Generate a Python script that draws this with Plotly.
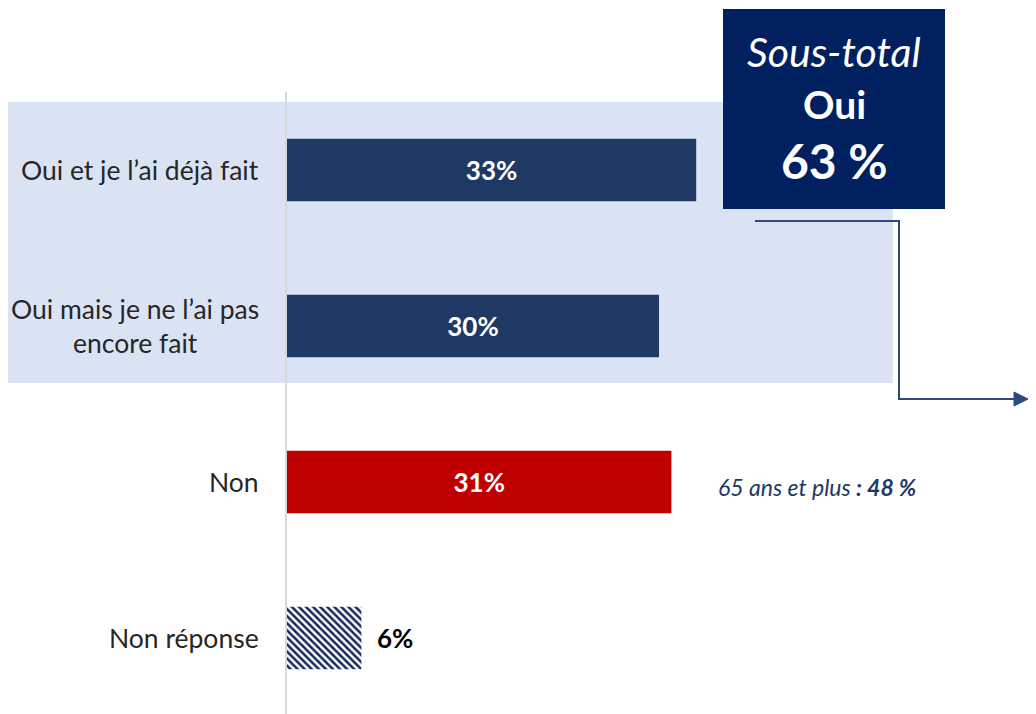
import plotly.graph_objects as go

categories = ["Oui et je l’ai déjà fait", "Oui mais je ne l’ai pas<br>encore fait", "Non", "Non réponse"]
values = [33, 30, 31, 6]
value_labels = ["33%", "30%", "31%", "6%"]
bar_colors = ["#203864", "#203864", "#C00000", "#FFFFFF"]
subtotal_lines = ["<i>Sous-total</i>", "<b>Oui</b>", "<b>63 %</b>"]
note_text = "<i>65 ans et plus <b>: 48 %</b></i>"

OFF = 8  # page body margin
W, H = 1036 - OFF, 714 - OFF
L = 287 - OFF
PW = W - L
PX_PER_PCT = 12.4


def px(x):
    # reference page pixel -> paper coordinate
    return (x - OFF - L) / PW


def py(y):
    return 1 - (y - OFF) / H


FONT = "Lato, 'Open Sans', sans-serif"
ypos = list(range(len(categories)))

fig = go.Figure()

fig.add_trace(go.Bar(
    x=values[:3], y=ypos[:3], orientation="h", width=0.4,
    marker=dict(color=bar_colors[:3], line=dict(width=0)),
    text=value_labels[:3], textposition="inside", insidetextanchor="middle",
    textfont=dict(family=FONT, size=26, color="white", weight="bold"),
    hoverinfo="skip",
))
fig.add_trace(go.Bar(
    x=values[3:], y=ypos[3:], orientation="h", width=0.4,
    marker=dict(color="white", line=dict(width=0),
                pattern=dict(shape="\\", fgcolor="#14285A", bgcolor="white",
                             size=5, solidity=0.5, fgopacity=1)),
    hoverinfo="skip",
))

annotations = []
for i, c in enumerate(categories):
    annotations.append(dict(
        x=0, y=i, xref="x", yref="y", text=c, showarrow=False,
        xanchor="right", yanchor="middle", align="center", xshift=-26,
        font=dict(family=FONT, size=26.5, color="#262626"),
    ))
annotations.append(dict(
    x=values[3], y=3, xref="x", yref="y", text="<b>" + value_labels[3] + "</b>",
    showarrow=False, xanchor="left", yanchor="middle", xshift=14,
    font=dict(family=FONT, size=26, color="black"),
))
annotations.append(dict(
    x=px(716), y=2, xref="paper", yref="y", text=note_text, showarrow=False,
    xanchor="left", yanchor="middle", yshift=-5,
    font=dict(family=FONT, size=23, color="#203864"),
))
box_cx = px(834)
annotations.append(dict(x=box_cx, y=py(52), xref="paper", yref="paper", text=subtotal_lines[0],
                        showarrow=False, xanchor="center", yanchor="middle",
                        font=dict(family=FONT, size=41, color="white")))
annotations.append(dict(x=box_cx, y=py(104), xref="paper", yref="paper", text=subtotal_lines[1],
                        showarrow=False, xanchor="center", yanchor="middle",
                        font=dict(family=FONT, size=39, color="white")))
annotations.append(dict(x=box_cx, y=py(160), xref="paper", yref="paper", text=subtotal_lines[2],
                        showarrow=False, xanchor="center", yanchor="middle",
                        font=dict(family=FONT, size=48, color="white")))

ARROW = "#2E4A7D"
shapes = [
    dict(type="rect", xref="paper", yref="paper", x0=px(0), x1=px(893), y0=py(383), y1=py(102),
         fillcolor="#DAE3F3", line=dict(width=0), layer="below"),
    dict(type="line", xref="paper", yref="paper", x0=px(286), x1=px(286), y0=py(92), y1=0,
         line=dict(color="#D9D9D9", width=2), layer="below"),
    dict(type="rect", xref="paper", yref="paper", x0=px(723), x1=px(945), y0=py(209), y1=py(9),
         fillcolor="#002060", line=dict(width=0), layer="above"),
    dict(type="path", xref="paper", yref="paper",
         path=f"M {px(755)} {py(221)} L {px(899)} {py(221)} L {px(899)} {py(399)} L {px(1016)} {py(399)}",
         line=dict(color=ARROW, width=2)),
    dict(type="path", xref="paper", yref="paper",
         path=f"M {px(1014)} {py(392)} L {px(1028)} {py(399)} L {px(1014)} {py(406)} Z",
         fillcolor=ARROW, line=dict(color=ARROW, width=1)),
]

c0 = 170 - OFF
yr_top = -c0 / 156
yr_bot = (H - c0) / 156

fig.update_layout(
    width=W, height=H,
    margin=dict(l=L, r=0, t=0, b=0),
    plot_bgcolor="rgba(0,0,0,0)", paper_bgcolor="white",
    showlegend=False, barmode="overlay",
    xaxis=dict(range=[0, PW / PX_PER_PCT], visible=False, fixedrange=True),
    yaxis=dict(range=[yr_bot, yr_top], visible=False, fixedrange=True),
    shapes=shapes, annotations=annotations,
    font=dict(family=FONT),
)

fig.write_html("out.html")
